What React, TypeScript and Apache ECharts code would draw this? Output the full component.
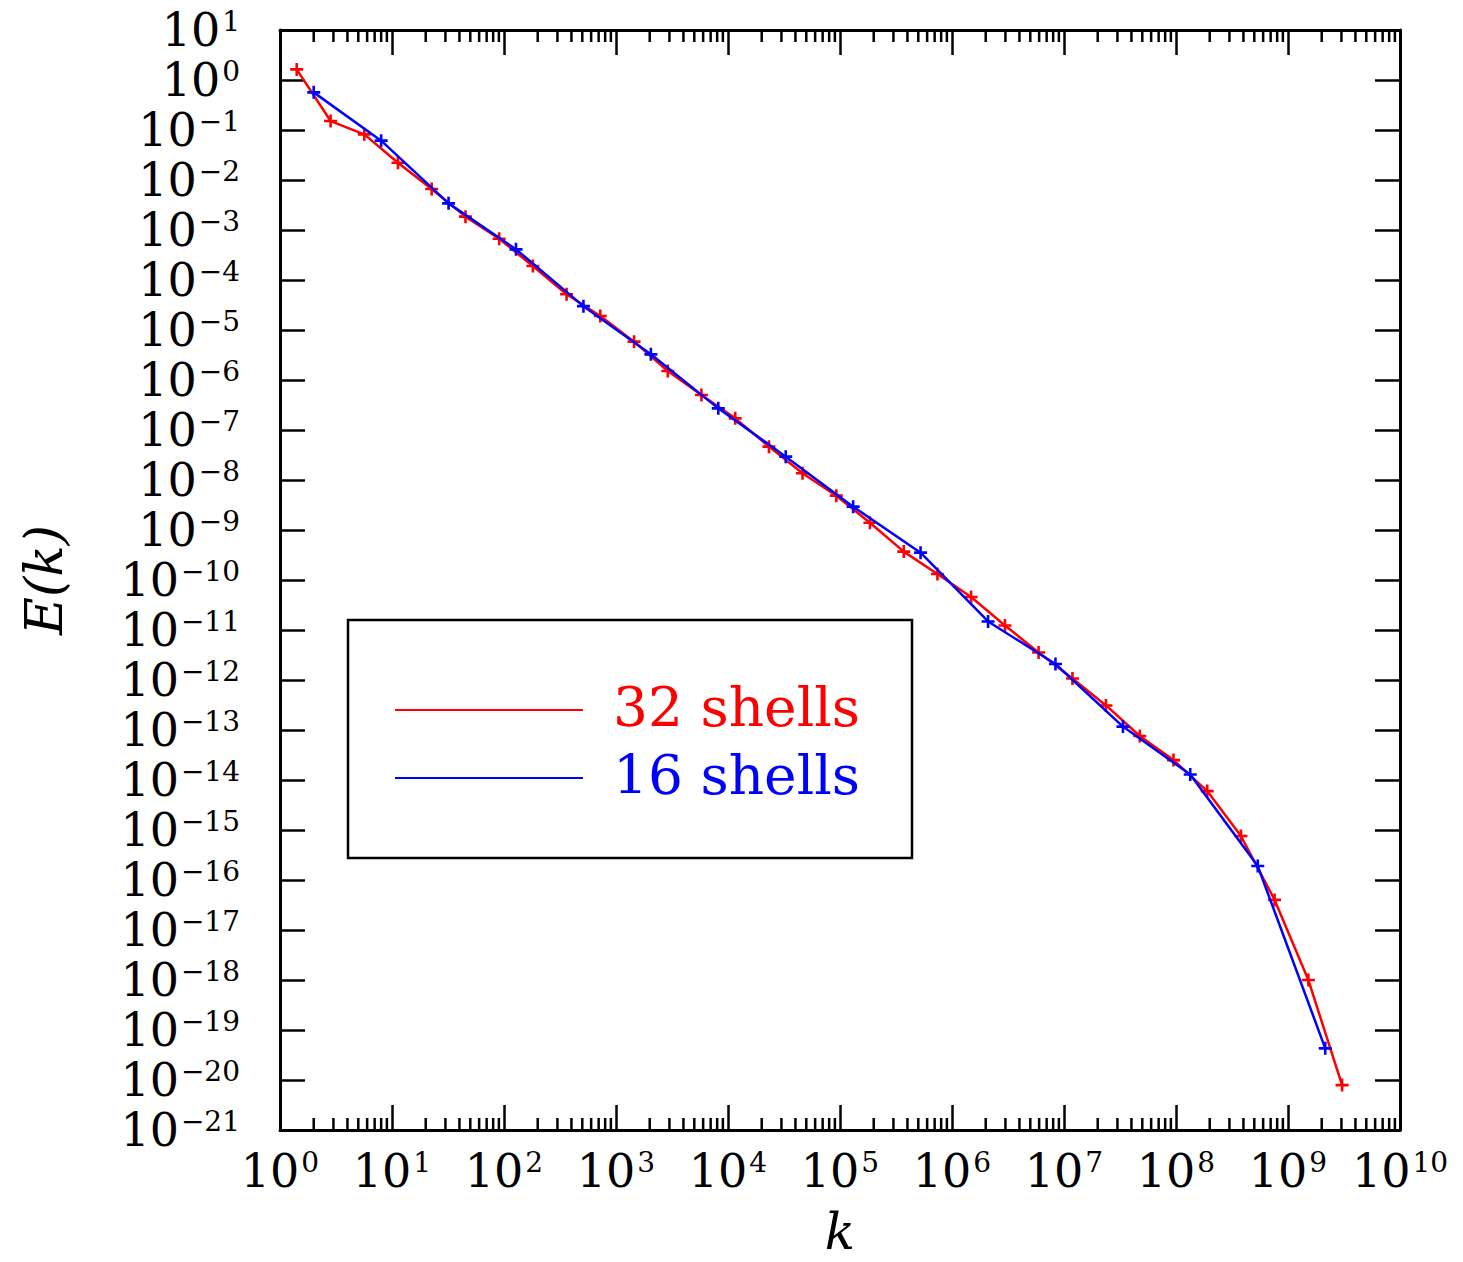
import React, { useEffect, useRef } from "react";
import * as echarts from "echarts";

// 32-shell model
const redK = [1.41, 2.83, 5.66, 11.3, 22.6, 45.3, 90.5, 181, 362, 724, 1450, 2900, 5790, 11600, 23200, 46300, 92700, 1.85e5, 3.71e5, 7.41e5, 1.48e6, 2.97e6, 5.93e6, 1.19e7, 2.37e7, 4.75e7, 9.49e7, 1.9e8, 3.8e8, 7.59e8, 1.52e9, 3.04e9];
const redE = [1.63, 0.151, 0.0818, 0.0222, 0.0066, 0.00185, 6.7e-4, 1.9e-4, 5.2e-5, 1.9e-5, 5.85e-6, 1.51e-6, 5.0e-7, 1.71e-7, 4.65e-8, 1.36e-8, 4.86e-9, 1.4e-9, 3.7e-10, 1.32e-10, 4.57e-11, 1.23e-11, 3.55e-12, 1.07e-12, 3.1e-13, 7.6e-14, 2.5e-14, 6.0e-15, 7.6e-16, 4.0e-17, 1.0e-18, 7.9e-21];

// 16-shell model
const blueK = [2, 8, 32, 128, 512, 2048, 8192, 32768, 1.31e5, 5.24e5, 2.1e6, 8.39e6, 3.36e7, 1.34e8, 5.37e8, 2.15e9];
const blueE = [0.566, 0.0612, 0.00341, 4.1e-4, 3.0e-5, 3.26e-6, 2.71e-7, 2.93e-8, 2.93e-9, 3.52e-10, 1.48e-11, 2.09e-12, 1.17e-13, 1.29e-14, 1.9e-16, 4.3e-20];

// minor tick positions on the k axis (2..9 x 10^d)
const minorK = [
  2, 3, 4, 5, 6, 7, 8, 9,
  20, 30, 40, 50, 60, 70, 80, 90,
  200, 300, 400, 500, 600, 700, 800, 900,
  2e3, 3e3, 4e3, 5e3, 6e3, 7e3, 8e3, 9e3,
  2e4, 3e4, 4e4, 5e4, 6e4, 7e4, 8e4, 9e4,
  2e5, 3e5, 4e5, 5e5, 6e5, 7e5, 8e5, 9e5,
  2e6, 3e6, 4e6, 5e6, 6e6, 7e6, 8e6, 9e6,
  2e7, 3e7, 4e7, 5e7, 6e7, 7e7, 8e7, 9e7,
  2e8, 3e8, 4e8, 5e8, 6e8, 7e8, 8e8, 9e8,
  2e9, 3e9, 4e9, 5e9, 6e9, 7e9, 8e9, 9e9,
];

// decade exponents used for the major ticks / labels
const xExpMin = 0, xExpMax = 10;
const yExpMin = -21, yExpMax = 1;

const seriesNames = ["32 shells", "16 shells"];

const FONT = "DejaVu Serif";
const PLUS = "path://M4,0H6V4H10V6H6V10H4V6H0V4H4Z";

function expLabel(v: number) {
  const e = Math.round(v);
  const s = e < 0 ? "\u2212" + -e : String(e);
  return `{b|10}{s|${s}}`;
}

const rich = {
  b: { fontSize: 46, fontFamily: FONT, color: "#000", lineHeight: 46, verticalAlign: "bottom" },
  s: { fontSize: 28, fontFamily: FONT, color: "#000", lineHeight: 46, verticalAlign: "top", padding: [0, 0, 0, 2] },
};

export default function App() {
  const ref = useRef<HTMLDivElement>(null);
  useEffect(() => {
    const chart = echarts.init(ref.current!, null, { renderer: "svg" });
    const axisLine = { show: true, onZero: false, lineStyle: { color: "#000", width: 3 } };
    const tick = { inside: true, length: 25, lineStyle: { color: "#000", width: 2.5 } };
    const hidden = { axisLine: { show: false, onZero: false }, axisTick: { show: false }, axisLabel: { show: false }, splitLine: { show: false } };
    chart.setOption({
      animation: false,
      backgroundColor: "#fff",
      grid: { left: 280, top: 30, right: 63, bottom: 132, containLabel: false, outerBoundsMode: "none" },
      xAxis: [
        { type: "log", logBase: 10, min: Math.pow(10, xExpMin), max: Math.pow(10, xExpMax), position: "bottom", ...hidden },
        {
          type: "value", min: xExpMin, max: xExpMax, interval: 1, position: "bottom",
          axisLine, splitLine: { show: false }, axisTick: tick,
          axisLabel: { formatter: expLabel, rich, margin: 18, showMinLabel: true, showMaxLabel: true, hideOverlap: false },
          name: "k", nameLocation: "middle", nameGap: 80, nameMoveOverlap: false,
          nameTextStyle: { fontFamily: FONT, fontStyle: "italic", fontSize: 50, color: "#000", lineHeight: 44 },
        },
        {
          type: "value", min: xExpMin, max: xExpMax, interval: 1, position: "top",
          axisLine, splitLine: { show: false }, axisTick: tick, axisLabel: { show: false },
        },
      ],
      yAxis: [
        { type: "log", logBase: 10, min: Math.pow(10, yExpMin), max: Math.pow(10, yExpMax), position: "left", ...hidden },
        {
          type: "value", min: yExpMin, max: yExpMax, interval: 1, position: "left",
          axisLine, splitLine: { show: false }, axisTick: tick,
          axisLabel: { formatter: expLabel, rich, margin: 40, showMinLabel: true, showMaxLabel: true, hideOverlap: false },
          name: "E(k)", nameLocation: "middle", nameGap: 210, nameRotate: 90, nameMoveOverlap: false,
          nameTextStyle: { fontFamily: FONT, fontStyle: "italic", fontSize: 52, color: "#000" },
        },
        {
          type: "value", min: yExpMin, max: yExpMax, interval: 1, position: "right",
          axisLine, splitLine: { show: false }, axisTick: tick, axisLabel: { show: false },
        },
      ],
      series: [
        {
          name: seriesNames[0], type: "line", xAxisIndex: 0, yAxisIndex: 0,
          data: redK.map((k, i) => [k, redE[i]]),
          lineStyle: { color: "#ff0000", width: 2.5 },
          itemStyle: { color: "#ff0000" },
          symbol: PLUS, symbolSize: 13, showSymbol: true, z: 3,
        },
        {
          name: seriesNames[1], type: "line", xAxisIndex: 0, yAxisIndex: 0,
          data: blueK.map((k, i) => [k, blueE[i]]),
          lineStyle: { color: "#0000ff", width: 2.5 },
          itemStyle: { color: "#0000ff" },
          symbol: PLUS, symbolSize: 13, showSymbol: true, z: 4,
        },
        {
          type: "custom", silent: true, clip: false, xAxisIndex: 0, yAxisIndex: 0,
          data: minorK.map((k) => [k, 1]),
          renderItem: (params: any, api: any) => {
            const cs = params.coordSys;
            const px = api.coord([api.value(0), 1])[0];
            const st = { stroke: "#000", lineWidth: 2.5 };
            return {
              type: "group",
              children: [
                { type: "line", shape: { x1: px, y1: cs.y + cs.height, x2: px, y2: cs.y + cs.height - 12 }, style: st },
                { type: "line", shape: { x1: px, y1: cs.y, x2: px, y2: cs.y + 12 }, style: st },
              ],
            };
          },
        },
      ],
      graphic: [
        { type: "rect", shape: { x: 348, y: 620, width: 564, height: 238 }, style: { fill: "#fff", stroke: "#000", lineWidth: 2.5 }, z: 10 },
        { type: "line", shape: { x1: 395, y1: 710, x2: 583, y2: 710 }, style: { stroke: "#ff0000", lineWidth: 2 }, z: 11 },
        { type: "line", shape: { x1: 395, y1: 778, x2: 583, y2: 778 }, style: { stroke: "#0000ff", lineWidth: 2 }, z: 11 },
        { type: "text", x: 613, y: 707, style: { text: seriesNames[0], fill: "#ff0000", fontFamily: FONT, fontSize: 55, verticalAlign: "middle", align: "left" }, z: 11 },
        { type: "text", x: 613, y: 775, style: { text: seriesNames[1], fill: "#0000ff", fontFamily: FONT, fontSize: 55, verticalAlign: "middle", align: "left" }, z: 11 },
      ],
    });
    return () => chart.dispose();
  }, []);
  return <div ref={ref} style={{ position: "fixed", left: 0, top: 0, width: 1463, height: 1262 }} />;
}
